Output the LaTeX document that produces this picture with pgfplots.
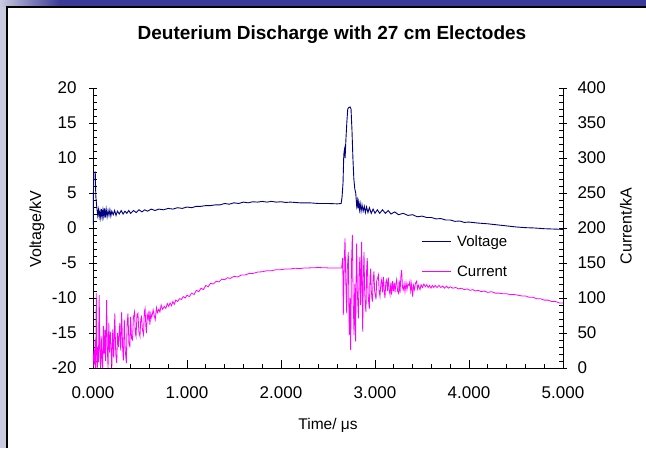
\documentclass[border=0pt]{standalone}
\usepackage{pgfplots}
\pgfplotsset{compat=1.18}
\usepackage{fontspec}
\setmainfont{Liberation Sans}
\definecolor{navyline}{RGB}{0,0,128}
\definecolor{magline}{RGB}{255,0,255}
\definecolor{slideblue}{RGB}{58,58,152}
\definecolor{slidelav}{RGB}{202,202,224}

\pgfplotstableread{
t V
0.000 0.5
0.004 4.5
0.008 7.9
0.024 8.0
0.030 4.5
0.040 3.0
0.050 1.8
0.058 2.6
0.066 1.6
0.074 2.4
0.082 1.5
0.090 2.7
0.098 1.6
0.106 2.6
0.114 1.7
0.122 2.8
0.130 1.5
0.140 2.7
0.150 1.6
0.160 2.5
0.170 1.8
0.180 2.6
0.190 1.7
0.200 2.4
0.215 1.9
0.230 2.5
0.245 1.8
0.260 2.4
0.280 2.0
0.300 2.5
0.320 2.0
0.340 2.4
0.360 2.1
0.380 2.5
0.400 2.1
0.430 2.5
0.460 2.2
0.490 2.6
0.520 2.3
0.550 2.6
0.580 2.4
0.620 2.7
0.660 2.5
0.700 2.7
0.750 2.6
0.800 2.8
0.850 2.7
0.900 2.9
0.950 2.8
1.000 3.0
1.050 2.9
1.100 3.1
1.150 3.1
1.200 3.2
1.250 3.2
1.300 3.3
1.350 3.3
1.400 3.5
1.450 3.4
1.500 3.6
1.550 3.5
1.600 3.7
1.650 3.6
1.700 3.75
1.750 3.7
1.800 3.8
1.850 3.7
1.900 3.8
1.950 3.7
2.000 3.75
2.050 3.65
2.100 3.7
2.200 3.6
2.300 3.6
2.400 3.5
2.500 3.5
2.600 3.45
2.640 3.5
2.650 4.5
2.660 6.5
2.668 10.5
2.675 11.2
2.682 10.0
2.690 12.5
2.700 15.0
2.710 17.0
2.720 17.2
2.735 17.3
2.745 17.0
2.755 14.0
2.765 10.0
2.775 7.0
2.785 5.6
2.795 5.0
2.805 3.2
2.812 3.9
2.818 2.8
2.826 3.7
2.834 2.6
2.842 3.5
2.852 2.4
2.862 3.3
2.874 2.4
2.886 3.1
2.898 2.2
2.910 3.0
2.925 2.2
2.940 2.9
2.960 2.1
2.980 2.7
3.000 2.1
3.025 2.6
3.050 2.1
3.080 2.6
3.110 2.1
3.140 2.5
3.170 2.0
3.210 2.3
3.250 1.9
3.300 2.1
3.350 1.8
3.400 1.9
3.450 1.6
3.500 1.7
3.550 1.5
3.600 1.5
3.650 1.3
3.700 1.35
3.750 1.15
3.800 1.15
3.850 0.95
3.900 1.0
3.950 0.8
4.000 0.85
4.100 0.7
4.200 0.6
4.300 0.45
4.400 0.3
4.500 0.15
4.600 0.05
4.700 0.0
4.800 -0.1
4.900 -0.15
5.000 -0.2
}\voltagetable

\pgfplotstableread{
t I
0.000 0
0.006 18
0.011 26
0.016 5
0.022 40
0.028 0
0.035 107
0.041 20
0.046 0
0.052 30
0.058 8
0.066 104
0.073 25
0.080 0
0.088 45
0.095 12
0.102 0
0.110 60
0.118 20
0.126 54
0.134 10
0.145 97
0.152 30
0.160 0
0.168 64
0.176 22
0.184 52
0.192 31
0.200 0
0.210 55
0.220 15
0.232 78
0.242 20
0.252 7
0.262 50
0.272 30
0.285 64
0.295 25
0.305 80
0.315 30
0.323 11
0.333 69
0.343 25
0.355 7
0.362 60
0.372 78
0.382 35
0.392 31
0.400 73
0.410 42
0.420 40
0.430 72
0.442 80
0.450 50
0.458 45
0.468 76
0.478 78
0.488 52
0.500 45
0.508 70
0.516 73
0.526 55
0.537 48
0.546 80
0.554 85
0.562 60
0.568 50
0.578 76
0.588 70
0.596 82
0.605 62
0.615 78
0.625 72
0.640 83
0.650 76
0.662 69
0.675 86
0.685 79
0.700 84
0.712 80
0.725 90
0.740 84
0.760 88
0.775 85
0.790 92
0.805 88
0.820 93
0.835 89
0.850 95
0.865 91
0.880 97
0.900 95
0.920 99
0.940 98
0.960 102
0.980 100
1.000 104
1.025 102
1.050 107
1.075 105
1.100 111
1.125 109
1.150 114
1.175 112
1.200 118
1.225 116
1.250 121
1.280 120
1.310 124
1.340 123
1.370 127
1.400 126
1.430 129
1.460 128
1.500 131
1.540 130
1.580 133
1.620 133
1.660 135
1.700 135
1.750 137
1.800 137.5
1.850 139
1.900 139
1.950 140.5
2.000 140.5
2.050 141.5
2.100 141.5
2.150 142.5
2.200 142
2.250 143
2.300 143
2.400 143.5
2.500 143
2.600 143
2.645 143
2.650 150
2.656 157
2.660 120
2.663 76
2.670 130
2.675 160
2.681 185
2.690 120
2.699 78
2.705 140
2.716 166
2.722 90
2.727 47
2.734 100
2.741 26
2.750 150
2.759 190
2.766 110
2.777 47
2.785 120
2.794 38
2.800 140
2.805 178
2.812 110
2.823 71
2.832 140
2.840 159
2.846 90
2.852 120
2.858 180
2.864 110
2.869 52
2.876 130
2.883 166
2.890 110
2.897 90
2.904 80
2.911 140
2.918 157
2.925 110
2.932 95
2.940 85
2.947 130
2.954 142
2.961 110
2.967 100
2.972 95
2.980 125
2.989 138
2.996 110
3.004 104
3.011 98
3.018 125
3.027 128
3.036 133
3.044 110
3.053 102
3.062 120
3.071 126
3.080 108
3.089 130
3.097 112
3.106 100
3.115 122
3.124 126
3.133 110
3.142 129
3.150 112
3.160 105
3.168 122
3.177 105
3.186 124
3.195 110
3.205 122
3.213 108
3.222 120
3.230 126
3.240 110
3.250 107
3.258 125
3.266 107
3.275 130
3.284 140
3.292 115
3.301 112
3.310 120
3.319 109
3.330 122
3.340 112
3.350 120
3.363 118
3.372 124
3.380 110
3.390 120
3.400 102
3.410 118
3.420 112
3.430 121
3.443 124
3.452 113
3.462 118
3.479 112
3.490 119
3.505 115
3.520 120
3.535 116
3.550 119
3.565 115
3.580 118
3.595 114
3.610 118
3.625 115
3.640 118
3.660 115
3.680 118
3.700 115
3.720 117
3.740 114
3.760 117
3.780 114
3.800 116
3.830 114
3.860 115
3.890 113
3.920 114
3.950 112
3.980 113
4.010 111
4.040 112
4.070 110
4.100 111
4.130 109
4.160 110
4.200 108
4.240 109
4.280 107
4.320 107
4.360 106
4.400 106
4.440 105
4.480 105
4.520 104
4.560 103
4.600 103
4.640 101
4.680 101
4.720 99
4.760 99
4.800 97
4.840 97
4.880 95
4.920 95
4.960 93
5.000 93
}\currenttable

\begin{document}
\begin{tikzpicture}[x=1pt,y=1pt]
\useasboundingbox (0,0) rectangle (646,448);
\fill[white] (0,0) rectangle (646,448);
\fill[slidelav] (0,0) rectangle (7,448);
\shade[left color=slidelav, right color=slideblue] (0,441) rectangle (60,448);
\fill[slideblue] (60,441) rectangle (646,448);
\draw[black, line width=1.5pt] (7,0) -- (7,441) -- (646,441);

\pgfplotsset{
  common/.style={
    at={(93pt,80pt)}, anchor=south west,
    width=470pt, height=280pt, scale only axis,
    xmin=0, xmax=5,
    tick align=inside,
    major tick length=8pt, minor tick length=4pt,
    every tick/.append style={black, line width=0.8pt},
    axis line style={black, line width=0.9pt},
    tick label style={font=\fontsize{17}{20}\selectfont},
    /pgf/number format/assume math mode=true,
    clip=true,
  }
}

\begin{axis}[common,
  ymin=-20, ymax=20,
  axis x line*=bottom, axis y line*=left,
  xtick={0,1,2,3,4,5},
  xticklabels={0.000,1.000,2.000,3.000,4.000,5.000},
  minor x tick num=4,
  ytick={-20,-15,...,20},
  minor y tick num=4,
  major y tick style={xshift=-4pt},
  x tick label style={yshift=-15pt},
  y tick label style={xshift=-13pt},
]
\addplot[navyline, line width=0.9pt, no markers] table[x=t,y=V] {\voltagetable};
\end{axis}

\begin{axis}[common,
  ymin=0, ymax=400,
  axis x line=none, axis y line*=right,
  xtick=\empty,
  ytick={0,50,...,400},
  minor y tick num=4,
  major y tick style={xshift=4pt},
  y tick label style={xshift=11pt},
  legend style={draw=none, fill=none, at={(0.698,0.398)}, anchor=west,
    font=\fontsize{15}{18}\selectfont, row sep=14pt, inner sep=0pt,
    /tikz/every odd column/.append style={column sep=4pt}},
  legend cell align=left,
  legend image code/.code={\draw[#1] (0pt,0pt) -- (29pt,0pt);},
]
\addlegendimage{navyline, line width=0.9pt}
\addlegendentry{Voltage}
\addplot[magline, line width=0.8pt, no markers] table[x=t,y=I] {\currenttable};
\addlegendentry{Current}
\end{axis}

\node[font=\bfseries\fontsize{19}{22}\selectfont, anchor=base] at (332,408) {Deuterium Discharge with 27 cm Electodes};
\node[font=\fontsize{15.5}{19}\selectfont, anchor=base] at (328,19) {Time/ μs};
\node[font=\fontsize{16}{19}\selectfont, rotate=90] at (37,219) {Voltage/kV};
\node[font=\fontsize{16}{19}\selectfont, rotate=90] at (626,222) {Current/kA};
\end{tikzpicture}
\end{document}
